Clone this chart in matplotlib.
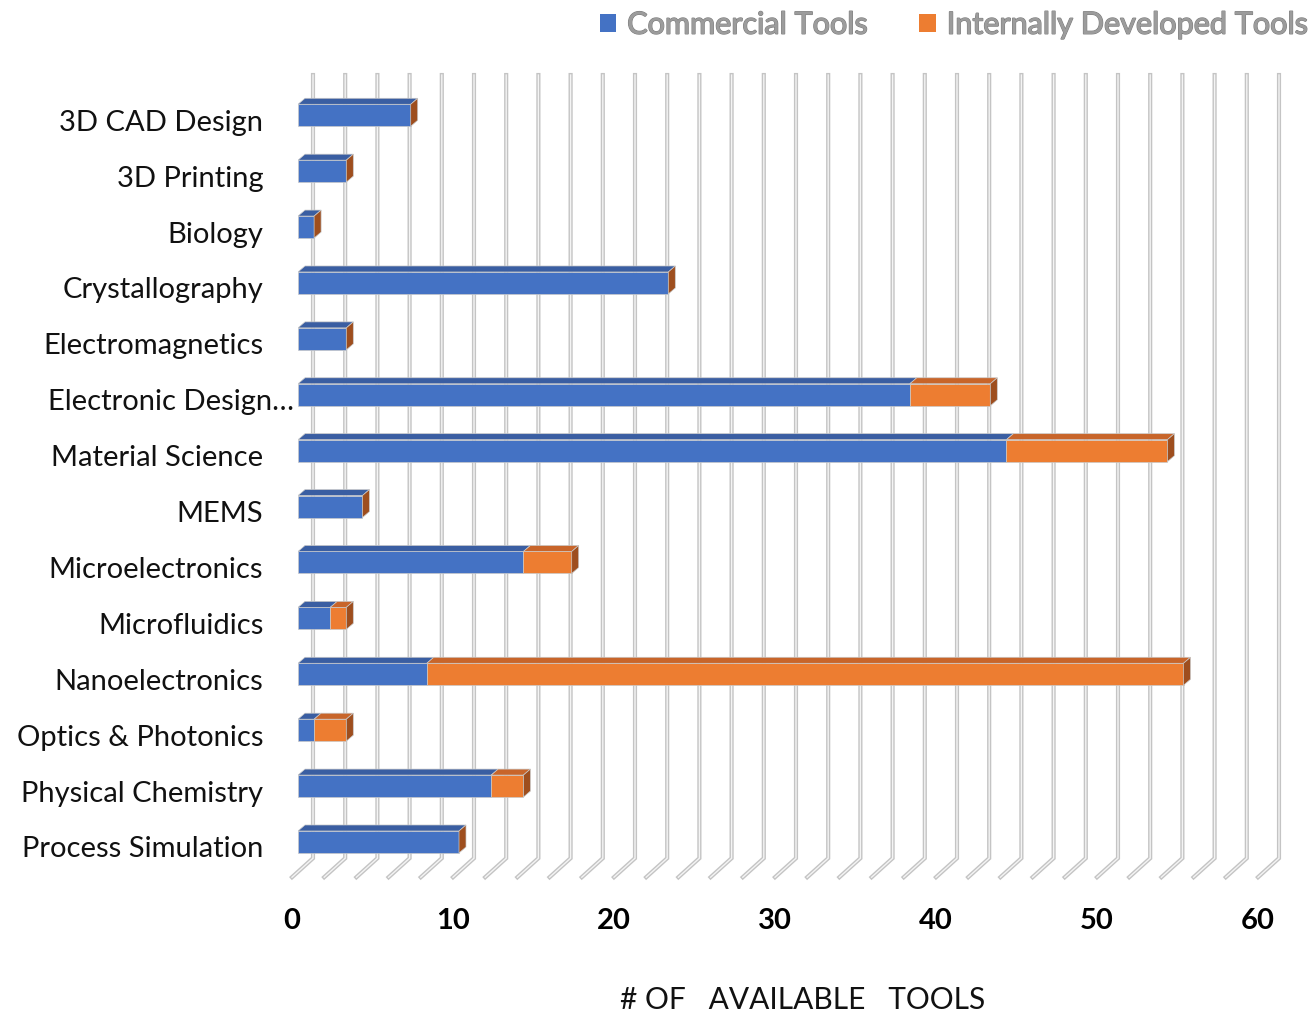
import matplotlib
matplotlib.use("Agg")
import matplotlib.pyplot as plt
import matplotlib.transforms as mtransforms
import matplotlib.patheffects as pe
from matplotlib.patches import Polygon, Rectangle, Patch
import numpy as np

# tools per research field
categories = ["3D CAD Design", "3D Printing", "Biology", "Crystallography",
              "Electromagnetics", "Electronic Design\u2026", "Material Science",
              "MEMS", "Microelectronics", "Microfluidics", "Nanoelectronics",
              "Optics & Photonics", "Physical Chemistry", "Process Simulation"]
commercial = [7, 3, 1, 23, 3, 38, 44, 4, 14, 2, 8, 1, 12, 10]
internal = [0, 0, 0, 0, 0, 5, 10, 0, 3, 1, 47, 2, 2, 0]
series_names = ["Commercial Tools", "Internally Developed Tools"]
xticks = [0, 10, 20, 30, 40, 50, 60]

blue, blue_top = "#4472C4", "#3A5EA2"
orange, orange_top, orange_side = "#ED7D31", "#C8652A", "#9E4E1E"

fig = plt.figure(figsize=(13.11, 10.15), dpi=100)
ax = fig.add_axes([298 / 1311, 135 / 1015, 966 / 1311, 810 / 1015])
ax.set_xlim(0, 60)
ax.set_ylim(-0.68, 13.81)
for s in ax.spines.values():
    s.set_visible(False)

# pixel size of one data unit, used for the fake 3D depth
ux = 966 / 60
uy = 810 / (13.81 + 0.68)

# back wall + floor gridlines (every 2 units)
back_dx = 15 / ux
front_dx = -6 / ux
y_top, y_back, y_front = 13.72, -0.29, -0.63
for v in np.arange(0, 61, 2):
    xs = [v + back_dx, v + back_dx, v + front_dx]
    ys = [y_top, y_back, y_front]
    ax.plot(xs, ys, color="#c4c4c4", lw=3.0, solid_joinstyle="miter",
            clip_on=False, zorder=1)
    ax.plot(xs, ys, color="#f4f4f4", lw=1.0, solid_joinstyle="miter",
            clip_on=False, zorder=1.1)

# bars with a small depth offset
ypos = np.arange(len(categories))[::-1]
h = 22 / uy
ddx, ddy = 7 / ux, 6 / uy
edge = "#c9c9c9"
for y, c, i in zip(ypos, commercial, internal):
    yb, yt = y - h / 2, y + h / 2
    left = 0
    for val, face, top in [(c, blue, blue_top), (i, orange, orange_top)]:
        if val <= 0:
            continue
        ax.add_patch(Polygon([(left, yt), (left + val, yt),
                              (left + val + ddx, yt + ddy), (left + ddx, yt + ddy)],
                             closed=True, facecolor=top, edgecolor=edge, lw=0.5,
                             zorder=3))
        ax.add_patch(Rectangle((left, yb), val, h, facecolor=face,
                               edgecolor=edge, lw=0.5, zorder=4))
        left += val
    ax.add_patch(Polygon([(left, yb), (left, yt), (left + ddx, yt + ddy),
                          (left + ddx, yb + ddy)], closed=True,
                         facecolor=orange_side, edgecolor=edge, lw=0.5, zorder=4))

# category labels
ax.set_yticks(ypos)
ax.set_yticklabels(categories, fontsize=21, family="Lato", color="#111111")
ax.tick_params(axis="y", length=0, pad=25)
shift_y = mtransforms.ScaledTranslation(0, -5 / 100, fig.dpi_scale_trans)
for lab in ax.get_yticklabels():
    tr = lab.get_transform() + shift_y
    if lab.get_text().endswith("\u2026"):
        # truncated label: the ellipsis runs past the label column
        tr = tr + mtransforms.ScaledTranslation(31 / 100, 0, fig.dpi_scale_trans)
    lab.set_transform(tr)

# value axis labels sit on the front edge of the floor
ax.set_xticks(xticks)
ax.set_xticklabels([str(t) for t in xticks], fontsize=21, family="Lato",
                   fontweight="bold", color="#000000")
ax.tick_params(axis="x", length=0, pad=20)
shift_x = mtransforms.ScaledTranslation(-6 / 100, 0, fig.dpi_scale_trans)
for lab in ax.get_xticklabels():
    lab.set_transform(lab.get_transform() + shift_x)

fig.text(803 / 1311, 1 - 1000 / 1015, "# OF   AVAILABLE   TOOLS",
         ha="center", va="center", fontsize=21.5, family="Lato", color="#111111")

handles = [Patch(facecolor=blue), Patch(facecolor=orange)]
leg = fig.legend(handles, series_names, loc="upper right",
                 bbox_to_anchor=(1.0 + 10 / 1311, 1.0 + 3 / 1015), ncol=2,
                 frameon=False, prop={"family": "Lato", "size": 22},
                 handlelength=0.55, handleheight=0.55, handletextpad=0.35,
                 columnspacing=1.7, borderaxespad=0.05)
for t in leg.get_texts():
    t.set_color("#9c9c9c")
    t.set_path_effects([pe.withStroke(linewidth=1.0, foreground="#7a7a7a"),
                        pe.Normal()])

fig.savefig("out.png", dpi=100)
